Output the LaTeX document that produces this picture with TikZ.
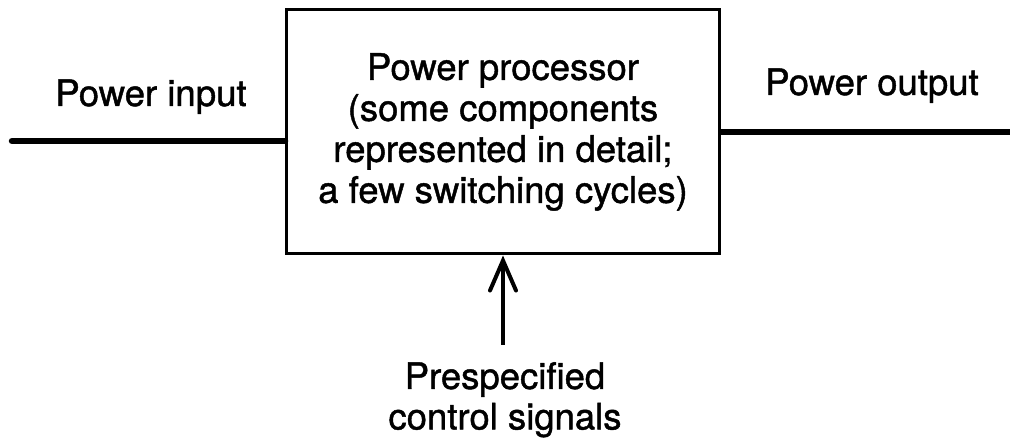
\documentclass[tikz,border=0pt]{standalone}
\usepackage{fontspec}
\setmainfont{TeX Gyre Heros}[FakeBold=1.2]
\usetikzlibrary{arrows.meta}
\begin{document}
\begin{tikzpicture}[x=1pt,y=-1pt,
  lbl/.style={font=\fontsize{36.5}{40.5}\selectfont,inner sep=0pt,align=center},
  procbox/.style={draw,line width=3pt,minimum width=433pt,minimum height=244pt,inner sep=0pt,align=center,font=\fontsize{36.5}{41}\selectfont},
  powerline/.style={line width=6.5pt},
  ctlarrow/.style={line width=4pt,-{Straight Barb[length=30pt,width=26pt,line cap=round]}}]
\useasboundingbox (0,0) rectangle (1010,438);
\node[procbox] (box) at (503,132) {Power processor\\(some components\\represented in detail;\\a few switching cycles)};
\coordinate (inend) at (12,141);
\coordinate (outend) at (1010,132);
\draw[powerline,line cap=round] (inend) -- (inend -| box.west);
\draw[powerline] (outend -| box.east) -- (outend);
\node[lbl,anchor=base] (inlbl) at (151,106) {Power input};
\node[lbl,anchor=base] (outlbl) at (872,95) {Power output};
\node[lbl,anchor=north] (ctl) at (505,362) {Prespecified\\control signals};
\coordinate (ctlend) at (box.south |- 0,345);
\draw[ctlarrow] (ctlend) -- (box.south);
\end{tikzpicture}
\end{document}
